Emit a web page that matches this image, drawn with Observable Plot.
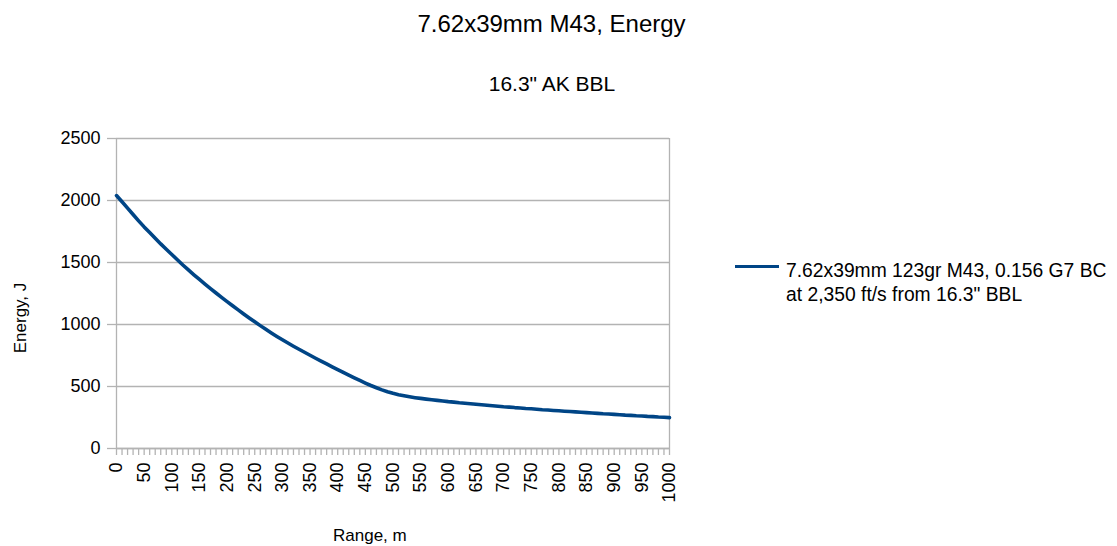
<!DOCTYPE html>
<html>
<head>
<meta charset="utf-8">
<script src="https://cdn.jsdelivr.net/npm/d3@7"></script>
<script src="https://cdn.jsdelivr.net/npm/@observablehq/plot@0.6"></script>
<style>
  html, body { margin: 0; padding: 0; background: #fff; }
  body { width: 1117px; height: 546px; position: relative; overflow: hidden;
         font-family: "Liberation Sans", Arial, sans-serif; color: #000; }
  .abs { position: absolute; white-space: nowrap; line-height: 1; }
  #title { left: 0; width: 1103px; text-align: center; top: 12px; font-size: 24px; }
  #subtitle { left: 0; width: 1104px; text-align: center; top: 73px; font-size: 21px; }
  #chart { position: absolute; left: 0; top: 110px; }
  #ylabel { font-size: 17px; left: 20px; top: 318px; transform: translate(-50%, -50%) rotate(-90deg); }
  #xlabel { font-size: 17px; left: 333px; top: 527px; }
  #legend { position: absolute; left: 735px; top: 256px; }
  #legend .sw { position: absolute; left: 0; top: 9px; width: 44px; height: 3px; background: #004586; }
  #legend .tx { position: absolute; left: 51px; top: 3px; font-size: 19.3px; line-height: 24px; white-space: nowrap; }
</style>
</head>
<body>
<div id="title" class="abs">7.62x39mm M43, Energy</div>
<div id="subtitle" class="abs">16.3" AK BBL</div>
<div id="chart"></div>
<div id="ylabel" class="abs">Energy, J</div>
<div id="xlabel" class="abs">Range, m</div>
<div id="legend"><div class="sw"></div><div class="tx"></div></div>
<script>
const seriesName = "7.62x39mm 123gr M43, 0.156 G7 BC\nat 2,350 ft/s from 16.3\" BBL";
const range = [0,10,20,30,40,50,60,70,80,90,100,110,120,130,140,150,160,170,180,190,200,
  210,220,230,240,250,260,270,280,290,300,310,320,330,340,350,360,370,380,390,400,
  410,420,430,440,450,460,470,480,490,500,510,520,530,540,550,560,570,580,590,600,
  610,620,630,640,650,660,670,680,690,700,710,720,730,740,750,760,770,780,790,800,
  810,820,830,840,850,860,870,880,890,900,910,920,930,940,950,960,970,980,990,1000];
const energy = [2040,1990,1938,1887,1836,1787,1741,1695,1650,1607,1565,1522,1480,1440,1401,1363,1326,1290,1254,1219,1185,
  1151,1118,1085,1053,1022,991,961,932,904,877,851,825,800,776,752,728,705,682,659,637,
  614,592,570,549,528,508,490,473,458,445,434,425,417,410,404,398,393,388,383,378,
  374,369,365,361,357,353,349,345,341,337,334,330,327,323,320,317,313,310,307,304,
  301,298,295,292,289,286,283,280,278,275,272,269,267,264,262,259,257,254,252,249];
const yTicks = [0,500,1000,1500,2000,2500];
const xMinorTicks = range;
const xLabelTicks = [0,50,100,150,200,250,300,350,400,450,500,550,600,650,700,750,800,850,900,950,1000];

const data = range.map((r, i) => ({range: r, energy: energy[i]}));
const grey = "#b3b3b3";
const plain = d => String(d);

const chart = Plot.plot({
  width: 700,
  height: 436,
  marginLeft: 116,
  marginRight: 31,
  marginTop: 28,
  marginBottom: 98,
  style: {fontFamily: "'Liberation Sans', Arial, sans-serif", fontSize: "18px", color: "#000", background: "#fff"},
  x: {domain: [0, 1000], label: null},
  y: {domain: [0, 2500], label: null},
  marks: [
    Plot.gridY(yTicks, {stroke: grey, strokeOpacity: 1, strokeWidth: 1.3}),
    Plot.ruleX([0, 1000], {stroke: grey, strokeWidth: 1.3}),
    Plot.ruleY([0], {stroke: grey, strokeWidth: 1.3}),
    Plot.axisY(yTicks, {tickSize: 9, tickPadding: 7, stroke: grey, strokeWidth: 1.3, fill: "#000", tickFormat: plain, label: null}),
    Plot.axisX(xMinorTicks, {tickSize: 7, stroke: grey, strokeWidth: 1.3, tickFormat: () => "", label: null}),
    Plot.axisX(xLabelTicks, {tickSize: 0, tickPadding: 14, tickRotate: -90, fill: "#000", tickFormat: plain, label: null}),
    Plot.line(data, {x: "range", y: "energy", stroke: "#004586", strokeWidth: 3.6})
  ]
});
document.getElementById("chart").appendChild(chart);
document.querySelector("#legend .tx").innerHTML = seriesName.split("\n").join("<br>");
</script>
</body>
</html>
